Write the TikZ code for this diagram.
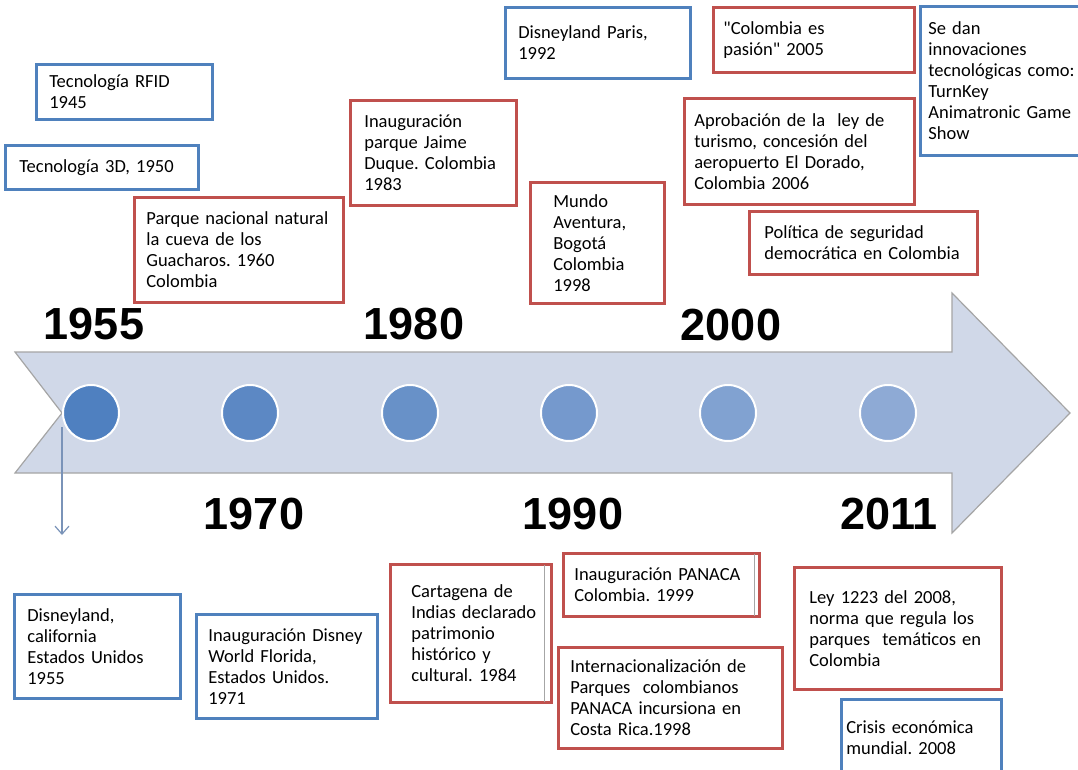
\documentclass[tikz,border=0pt]{standalone}
\usepackage{fontspec}
\setmainfont{Carlito}[Ligatures=TeXOff]
\newfontfamily\yearfont{Liberation Sans}
\usetikzlibrary{arrows.meta}
\frenchspacing

\definecolor{evred}{HTML}{C0504D}
\definecolor{evblue}{HTML}{4F81BD}
\definecolor{bandfill}{HTML}{D0D8E8}
\definecolor{bandline}{HTML}{A5A5A5}
\definecolor{dotA}{HTML}{4F80C0}
\definecolor{dotB}{HTML}{8EAAD5}
\definecolor{linkcol}{HTML}{7A93B8}

\tikzset{
  evt/.style={draw, line width=2.7pt, fill=white, anchor=north west, align=left,
    inner xsep=3pt, inner ysep=0pt, font=\fontsize{18.5}{21}\selectfont},
  redbox/.style={evt, draw=evred},
  bluebox/.style={evt, draw=evblue},
  lskip/.style={execute at begin node={\leftskip=#1\relax}},
  dot/.style={circle, draw=white, line width=2pt, minimum size=56pt, inner sep=0pt},
  yr/.style={font=\yearfont\bfseries\fontsize{45}{50}\selectfont, inner sep=0pt},
  link/.style={draw=linkcol, line width=1.2pt, -{Straight Barb[length=8pt,width=14pt]}}
}

\begin{document}
\begin{tikzpicture}[x=1pt,y=-1pt]
\useasboundingbox (0,0) rectangle (1078,769);

% the time band
\draw [fill=bandfill, draw=bandline, line width=1.2pt]
  (15,352) -- (952,352) -- (952,293) -- (1070,413) -- (952,533)
  -- (952,473) -- (15,473) -- (62,413) -- cycle;

\node [dot, fill=dotA] (c1) at (91,413) {};
\node [dot, fill=dotA!80!dotB] (c2) at (250,413) {};
\node [dot, fill=dotA!60!dotB] (c3) at (410,413) {};
\node [dot, fill=dotA!40!dotB] (c4) at (569,413) {};
\node [dot, fill=dotA!20!dotB] (c5) at (728,413) {};
\node [dot, fill=dotB] (c6) at (888,413) {};

\node [yr] (y1955) at (94,324) {1955};
\node [yr] (y1980) at (414,324) {1980};
\node [yr] (y2000) at (731,325) {2000};
\node [yr] (y1970) at (254,514) {1970};
\node [yr] (y1990) at (573,514) {1990};
\node [yr] (y2011) at (889,514) {2011};

% events above the band
\node [bluebox, text width=170pt, minimum height=55pt, lskip=10pt] (rfid) at (35,63) {Tecnología RFID\\1945};
\node [bluebox, text width=187pt, minimum height=44pt, lskip=11pt] (tresd) at (4,144) {Tecnología 3D, 1950};
\node [redbox, text width=203pt, minimum height=105pt, lskip=9pt] (cueva) at (133,196) {Parque nacional natural\\la cueva de los\\Guacharos. 1960\\Colombia};
\node [redbox, text width=160pt, minimum height=105pt, lskip=11pt] (duque) at (349,99) {Inauguración\\parque Jaime\\Duque. Colombia\\1983};
\node [bluebox, text width=179pt, minimum height=71pt, lskip=10pt] (paris) at (504,6) {Disneyland Paris,\\1992};
\node [redbox, text width=128pt, minimum height=121pt, lskip=20pt] (mundo) at (529,181) {Mundo\\Aventura,\\Bogotá\\Colombia\\1998};
\node [redbox, text width=195pt, minimum height=65pt, lskip=7pt] (pasion) at (712,6) {"Colombia es\\pasión" 2005};
\node [redbox, text width=224pt, minimum height=106pt, lskip=7pt] (turismo) at (683,97) {Aprobación de la\ \ ley de\\turismo, concesión del\\aeropuerto El Dorado,\\Colombia 2006};
\node [bluebox, text width=154pt, minimum height=149pt, lskip=5pt] (innov) at (919,5) {Se dan\\innovaciones\\tecnológicas como:\\TurnKey\\Animatronic Game\\Show};
\node [redbox, text width=222pt, minimum height=63pt, lskip=12pt] (segur) at (748,210) {Política de seguridad\\democrática en Colombia};

% events below the band
\node [bluebox, text width=160pt, minimum height=104pt, lskip=10pt] (disney) at (13,593) {Disneyland,\\california\\Estados Unidos\\1955};
\node [bluebox, text width=175pt, minimum height=104pt, lskip=9pt] (florida) at (195,613) {Inauguración Disney\\World Florida,\\Estados Unidos.\\1971};
\node [redbox, text width=155pt, minimum height=138pt, lskip=18pt] (cartag) at (389,563) {Cartagena de\\Indias declarado\\patrimonio\\histórico y\\cultural. 1984};
\node [redbox, text width=190pt, minimum height=63pt, lskip=8pt] (panaca) at (562,552) {Inauguración PANACA\\Colombia. 1999};
\node [redbox, text width=218pt, minimum height=101pt, lskip=9pt] (intern) at (557,646) {Internacionalización de\\Parques\ \ colombianos\\PANACA incursiona en\\Costa Rica.1998};
\node [redbox, text width=201pt, minimum height=122pt, lskip=12pt] (ley) at (793,566) {Ley 1223 del 2008,\\norma que regula los\\parques\ \ temáticos en\\Colombia};
\node [bluebox, text width=154pt, minimum height=76pt, lskip=2pt] (crisis) at (840,698) {Crisis económica\\mundial. 2008};

% second right edge of two boxes
\draw [gray!70, line width=0.8pt] ([xshift=-8pt,yshift=-2pt]cartag.north east) -- ([xshift=-8pt,yshift=2pt]cartag.south east);
\draw [gray!70, line width=0.8pt] ([xshift=-6pt,yshift=-2pt]panaca.north east) -- ([xshift=-6pt,yshift=2pt]panaca.south east);

\coordinate (c1down) at (62,535);
\draw [link] ([yshift=-14pt]c1.west) -- (c1down);
\end{tikzpicture}
\end{document}
